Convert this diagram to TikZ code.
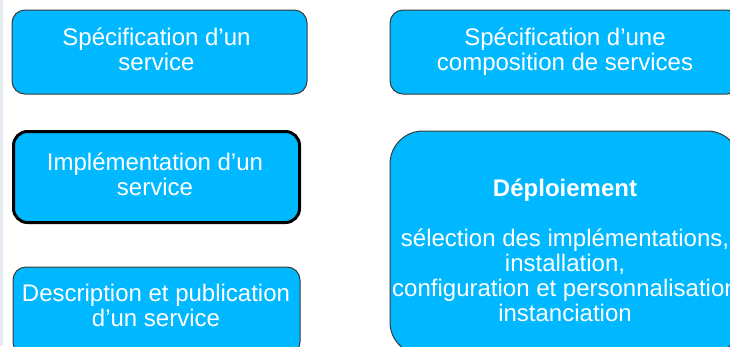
\documentclass[tikz,border=0pt]{standalone}
\usepackage{fontspec}
\setmainfont{Liberation Sans}
\definecolor{boxblue}{HTML}{00B8FF}
\definecolor{boxline}{HTML}{3A3A3A}
\definecolor{strip}{HTML}{E6ECF2}
\begin{document}
\begin{tikzpicture}[x=1pt,y=-1pt,
  box/.style={draw=boxline,line width=1pt,fill=boxblue,rounded corners=13pt,inner sep=0pt},
  thickbox/.style={box,draw=black,line width=3pt,rounded corners=14pt},
  lbl/.style={text=white,align=center,inner sep=0pt,font=\fontsize{24}{25}\selectfont}]
\useasboundingbox (0,0) rectangle (730,346);
\clip (0,0) rectangle (730,346);
\fill[white] (0,0) rectangle (730,346);
\fill[strip] (0,0) rectangle (3,346);
\node[box,minimum width=295pt,minimum height=84pt] (b1) at (159.5,52) {};
\node[lbl] (b1t) at (156.5,49) {Spécification d’un\\service};
\node[thickbox,minimum width=286pt,minimum height=91pt] (b2) at (156.5,177) {};
\node[lbl] (b2t) at (155,174.5) {Implémentation d’un\\service};
\node[box,minimum width=287pt,minimum height=88pt] (b3) at (156.5,311) {};
\node[lbl] (b3t) at (156,305.5) {Description et publication\\d’un service};
\node[box,minimum width=350pt,minimum height=84pt] (r1) at (565,52) {};
\node[lbl] (r1t) at (565,51.5) {Spécification d’une\\composition de services};
\node[box,rounded corners=33pt,minimum width=350pt,minimum height=224pt] (r2) at (565,243) {};
\node[lbl] (r2t) at (565,250)
  {\textbf{Déploiement}\\[25pt]sélection des implémentations,\\installation,\\configuration et personnalisation\\instanciation};
\end{tikzpicture}
\end{document}
